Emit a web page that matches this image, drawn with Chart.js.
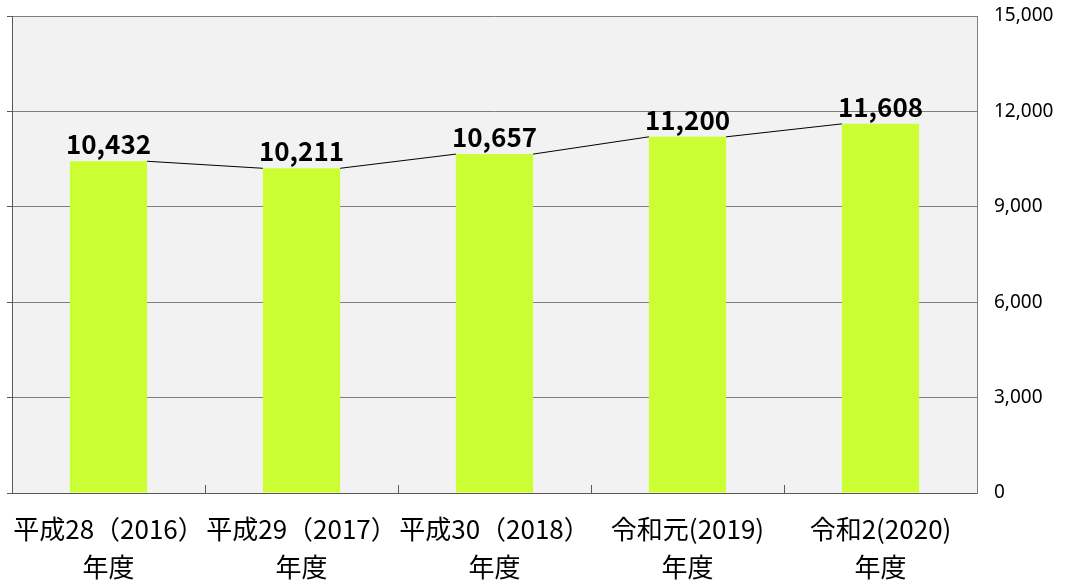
<!DOCTYPE html>
<html lang="ja">
<head>
<meta charset="utf-8">
<title>年度別推移</title>
<script src="https://cdn.jsdelivr.net/npm/chart.js@4/dist/chart.umd.min.js"></script>
<style>
    html, body { margin: 0; padding: 0; background: #ffffff; }
    #wrap { width: 1065px; height: 582px; position: relative; }
</style>
</head>
<body>
<div id="wrap"><canvas id="yearChart"></canvas></div>
<script>
// ===== DATA =====
const categories = [
    ['平成28（2016）', '年度'],
    ['平成29（2017）', '年度'],
    ['平成30（2018）', '年度'],
    ['令和元(2019)', '年度'],
    ['令和2(2020)', '年度']
];
const values = [10432, 10211, 10657, 11200, 11608];
const yTicks = [0, 3000, 6000, 9000, 12000, 15000];

(function() {
    'use strict';

    const CJK = '"Noto Sans CJK JP", "Noto Sans", sans-serif';

    // plot background
    const plotBg = {
        id: 'plotBg',
        beforeDraw(chart) {
            const a = chart.chartArea;
            const ctx = chart.ctx;
            ctx.save();
            ctx.fillStyle = '#f2f2f2';
            ctx.fillRect(a.left, a.top, a.right - a.left, a.bottom - a.top);
            ctx.restore();
        }
    };

    // series lines between bar tops, value labels, inner category ticks
    const barExtras = {
        id: 'barExtras',
        afterDatasetsDraw(chart) {
            const ctx = chart.ctx;
            const bars = chart.getDatasetMeta(0).data;
            const x = chart.scales.x;
            const a = chart.chartArea;

            ctx.save();
            ctx.strokeStyle = '#000000';
            ctx.lineWidth = 1;
            for (let i = 0; i < bars.length - 1; i++) {
                const b1 = bars[i], b2 = bars[i + 1];
                ctx.beginPath();
                ctx.moveTo(b1.x + b1.width / 2, b1.y);
                ctx.lineTo(b2.x - b2.width / 2, b2.y);
                ctx.stroke();
            }

            // category boundary ticks (pointing inward)
            ctx.strokeStyle = '#595959';
            for (let i = 0; i < values.length - 1; i++) {
                const px = Math.round((x.getPixelForValue(i) + x.getPixelForValue(i + 1)) / 2) + 0.5;
                ctx.beginPath();
                ctx.moveTo(px, a.bottom);
                ctx.lineTo(px, a.bottom - 8);
                ctx.stroke();
            }

            ctx.fillStyle = '#000000';
            ctx.font = 'bold 26px ' + CJK;
            ctx.textAlign = 'center';
            ctx.textBaseline = 'middle';
            bars.forEach((b, i) => {
                ctx.fillText(values[i].toLocaleString('en-US'), b.x, b.y - 17);
            });
            ctx.restore();
        }
    };

    const ctx = document.getElementById('yearChart').getContext('2d');

    new Chart(ctx, {
        type: 'bar',
        data: {
            labels: categories,
            datasets: [{
                data: values,
                backgroundColor: '#ccff33',
                borderWidth: 0,
                categoryPercentage: 1,
                barPercentage: 0.4
            }]
        },
        options: {
            responsive: true,
            maintainAspectRatio: false,
            animation: false,
            layout: {
                padding: { top: 16, left: 0, right: 0, bottom: 0 }
            },
            plugins: {
                legend: { display: false },
                tooltip: { enabled: false }
            },
            scales: {
                x: {
                    offset: true,
                    grid: { display: false },
                    border: { display: true, color: '#595959', width: 1 },
                    ticks: {
                        color: '#000000',
                        maxRotation: 0,
                        autoSkip: false,
                        padding: 9,
                        font: { family: CJK, size: 26, lineHeight: 1.46 }
                    },
                    afterFit(scale) {
                        scale.height = 89;
                        scale.paddingLeft = 0;
                        scale.paddingRight = 0;
                    }
                },
                y: {
                    position: 'right',
                    min: 0,
                    max: 15000,
                    afterBuildTicks(scale) {
                        scale.ticks = yTicks.map(v => ({ value: v }));
                    },
                    grid: {
                        color: '#7f7f7f',
                        drawTicks: false
                    },
                    border: { display: true, color: '#7f7f7f', width: 1 },
                    ticks: {
                        color: '#000000',
                        padding: 17,
                        font: { family: '"Noto Sans", sans-serif', size: 19 },
                        callback: v => v.toLocaleString('en-US')
                    },
                    afterFit(scale) {
                        scale.width = 88;
                        scale.paddingTop = 0;
                        scale.paddingBottom = 0;
                    }
                },
                yLeft: {
                    position: 'left',
                    min: 0,
                    max: 15000,
                    afterBuildTicks(scale) {
                        scale.ticks = yTicks.map(v => ({ value: v }));
                    },
                    grid: {
                        drawOnChartArea: false,
                        drawTicks: true,
                        tickLength: 5,
                        color: '#595959'
                    },
                    border: { display: true, color: '#595959', width: 1 },
                    ticks: { display: false },
                    afterFit(scale) {
                        scale.width = 12;
                        scale.paddingTop = 0;
                        scale.paddingBottom = 0;
                    }
                }
            }
        },
        plugins: [plotBg, barExtras]
    });
})();
</script>
</body>
</html>
